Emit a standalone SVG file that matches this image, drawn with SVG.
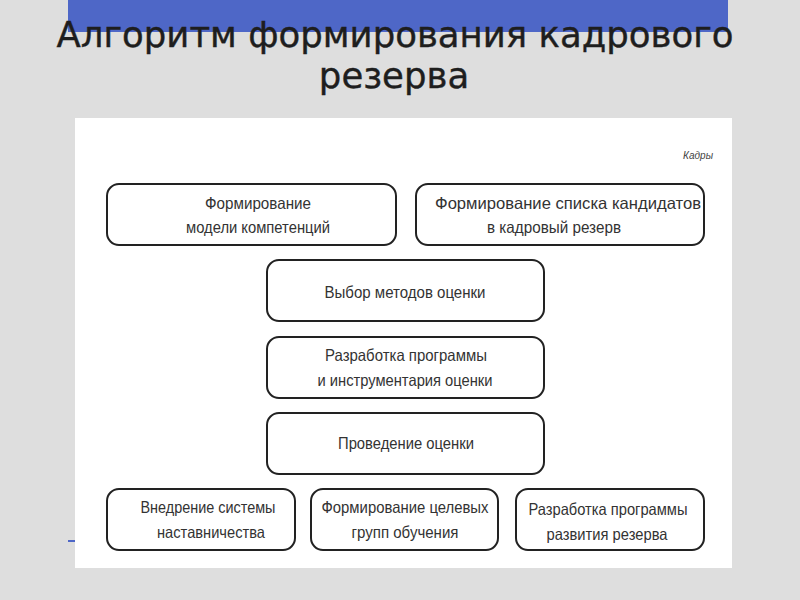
<svg xmlns="http://www.w3.org/2000/svg" width="800" height="600" viewBox="0 0 800 600">
  <style>
    .box { fill: #ffffff; stroke: #222222; stroke-width: 2; }
    .lbl { font-family: "Liberation Sans", Arial, sans-serif; font-size: 16.5px; fill: #333333; text-anchor: middle; }
    .title { font-family: "DejaVu Sans", sans-serif; font-size: 35.5px; fill: #1e1e1e; stroke: #1e1e1e; stroke-width: 0.4; text-anchor: middle; }
  </style>
  <rect x="0" y="0" width="800" height="600" fill="#dedede"/>
  <rect x="68" y="0" width="660" height="32" fill="#4e67c7"/>
  <text class="title" x="395" y="47">Алгоритм формирования кадрового</text>
  <text class="title" x="394" y="88">резерва</text>
  <rect x="68" y="540" width="8" height="2" fill="#4e67c7"/>
  <rect x="75" y="118" width="657" height="450" fill="#ffffff"/>
  <text x="713" y="159" font-family="Liberation Sans, sans-serif" font-size="10px" font-style="italic" fill="#444444" text-anchor="end">Кадры</text>
  <g id="connectors"></g>
  <g id="n1"><rect class="box" x="107" y="184" width="289" height="61" rx="12"/><text class="lbl" x="258" y="209" textLength="106" lengthAdjust="spacingAndGlyphs">Формирование</text><text class="lbl" x="258" y="233" textLength="144" lengthAdjust="spacingAndGlyphs">модели компетенций</text></g>
  <g id="n2"><rect class="box" x="416" y="184" width="288" height="61" rx="12"/><text class="lbl" x="568" y="209" textLength="266" lengthAdjust="spacingAndGlyphs">Формирование списка кандидатов</text><text class="lbl" x="554" y="233" textLength="134" lengthAdjust="spacingAndGlyphs">в кадровый резерв</text></g>
  <g id="n3"><rect class="box" x="267" y="260" width="277" height="61" rx="12"/><text class="lbl" x="405" y="298" textLength="161" lengthAdjust="spacingAndGlyphs">Выбор методов оценки</text></g>
  <g id="n4"><rect class="box" x="267" y="337" width="277" height="61" rx="12"/><text class="lbl" x="406" y="361" textLength="162" lengthAdjust="spacingAndGlyphs">Разработка программы</text><text class="lbl" x="405" y="386" textLength="175" lengthAdjust="spacingAndGlyphs">и инструментария оценки</text></g>
  <g id="n5"><rect class="box" x="267" y="413" width="277" height="61" rx="12"/><text class="lbl" x="406" y="449" textLength="136" lengthAdjust="spacingAndGlyphs">Проведение оценки</text></g>
  <g id="n6"><rect class="box" x="107" y="489" width="188" height="61" rx="12"/><text class="lbl" x="208" y="513" textLength="135" lengthAdjust="spacingAndGlyphs">Внедрение системы</text><text class="lbl" x="211" y="538" textLength="108" lengthAdjust="spacingAndGlyphs">наставничества</text></g>
  <g id="n7"><rect class="box" x="311" y="489" width="187" height="61" rx="12"/><text class="lbl" x="405" y="513" textLength="167" lengthAdjust="spacingAndGlyphs">Формирование целевых</text><text class="lbl" x="405" y="538" textLength="107" lengthAdjust="spacingAndGlyphs">групп обучения</text></g>
  <g id="n8"><rect class="box" x="516" y="489" width="188" height="61" rx="12"/><text class="lbl" x="608" y="515" textLength="159" lengthAdjust="spacingAndGlyphs">Разработка программы</text><text class="lbl" x="607" y="540" textLength="121" lengthAdjust="spacingAndGlyphs">развития резерва</text></g>
</svg>
